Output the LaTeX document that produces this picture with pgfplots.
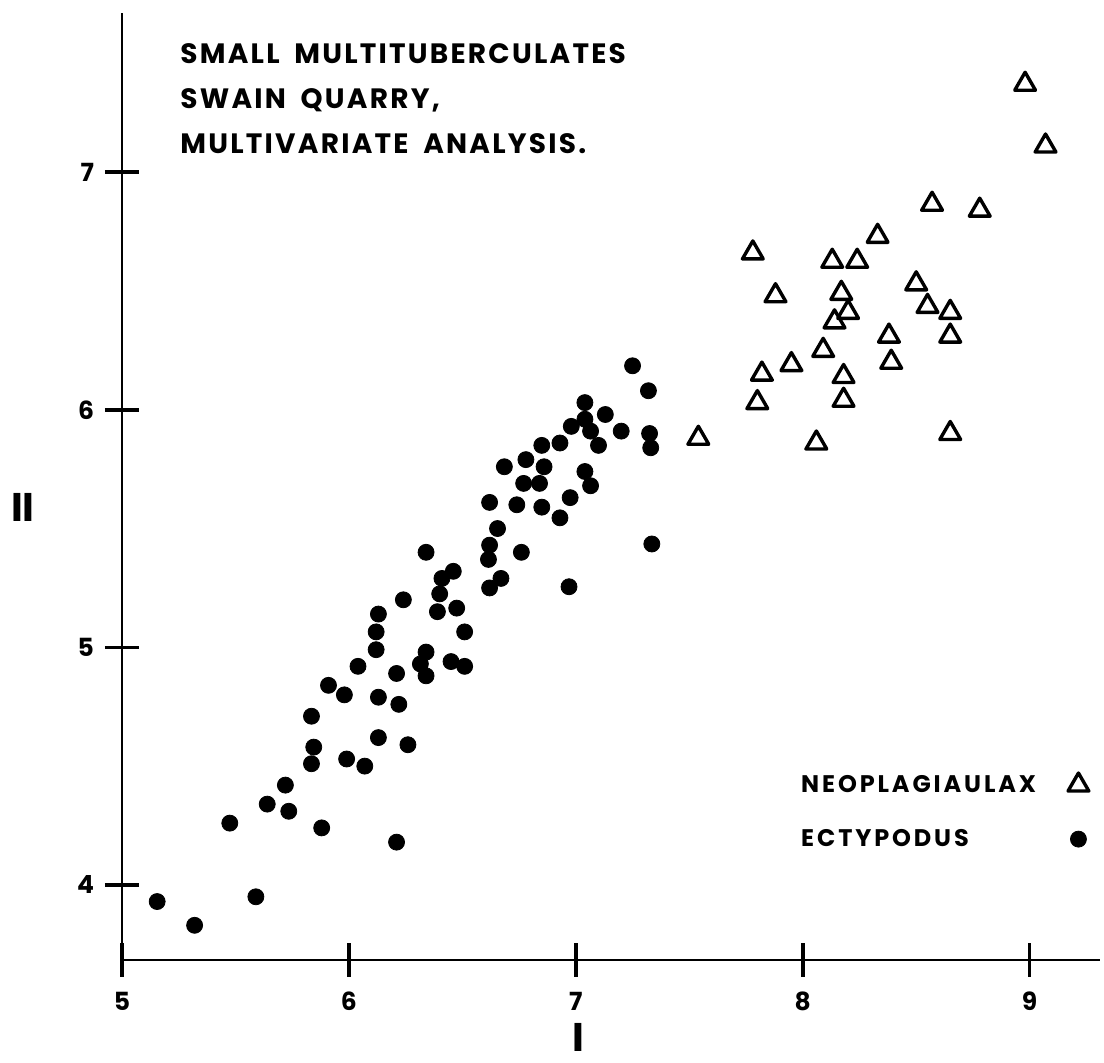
\documentclass[border=0pt]{standalone}
\usepackage{fontspec}
\setmainfont{Poppins}
\newfontfamily\titlefont{Poppins}[LetterSpace=8,WordSpace=1.8]
\usepackage{pgfplots}
\usepackage{pgfplotstable}
\pgfplotsset{compat=1.18}

\pgfplotstableread{
x y
8.98 7.37
9.07 7.11
8.57 6.865
8.78 6.84
8.33 6.73
7.78 6.66
8.13 6.625
8.24 6.625
8.50 6.53
7.88 6.48
8.17 6.49
8.20 6.41
8.14 6.37
8.55 6.435
8.65 6.41
8.38 6.31
8.65 6.31
8.09 6.25
7.95 6.19
7.82 6.15
8.39 6.20
8.18 6.14
7.80 6.03
8.18 6.04
7.54 5.88
8.06 5.86
8.65 5.90
}\neodata

\pgfplotstableread{
x y
5.155 3.93
5.32 3.83
5.475 4.26
5.59 3.95
5.64 4.34
5.72 4.42
5.735 4.31
5.835 4.71
5.845 4.58
5.835 4.51
5.88 4.24
5.91 4.84
5.98 4.80
5.99 4.53
6.04 4.92
6.07 4.50
6.12 4.99
6.13 4.62
6.13 4.79
6.21 4.18
6.21 4.89
6.22 4.76
6.26 4.59
6.315 4.93
6.34 4.98
6.34 4.88
6.62 5.61
6.74 5.60
6.85 5.59
6.77 5.69
6.84 5.69
6.655 5.50
6.62 5.43
6.615 5.37
6.76 5.40
6.67 5.29
6.62 5.25
6.34 5.40
6.46 5.32
6.41 5.29
6.40 5.225
6.24 5.20
6.39 5.15
6.475 5.165
6.13 5.14
6.12 5.065
6.51 5.065
6.45 4.94
6.51 4.92
7.25 6.185
7.32 6.08
7.04 6.03
7.13 5.98
7.04 5.96
6.98 5.93
7.065 5.91
7.20 5.91
7.325 5.90
7.33 5.84
7.10 5.85
6.93 5.86
6.85 5.85
6.78 5.79
6.685 5.76
6.86 5.76
7.04 5.74
7.065 5.68
6.975 5.63
6.93 5.545
7.335 5.435
6.97 5.255
}\ectdata

\begin{document}
\begin{tikzpicture}
\useasboundingbox (-61pt,-51.5pt) rectangle (491pt,480pt);
\begin{axis}[
  at={(0,0)}, anchor=south west,
  scale only axis, width=489pt, height=473.5pt,
  xmin=5, xmax=9.31, ymin=3.684, ymax=7.67,
  axis lines=left,
  axis line style={-, line width=1.4pt, black},
  xtick={5,6,7,8,9}, ytick={4,5,6,7},
  tick align=center, major tick length=17pt,
  tick style={black, line width=1.8pt},
  tick label style={font=\bfseries\fontsize{12.5}{12.5}\selectfont},
  /pgf/number format/assume math mode=true,
  xticklabel style={yshift=-4pt},
  yticklabel style={xshift=-2pt},
  clip=false,
  legend plot pos=right,
  legend cell align=left,
  legend style={draw=none, fill=none, at={(rel axis cs:0.69,0.2)}, anchor=north west,
    font=\bfseries\fontsize{12}{12}\selectfont\addfontfeatures{LetterSpace=12},
    row sep=13pt, column sep=14pt, inner sep=0pt},
  every axis x label/.style={at={(rel axis cs:0.467,0)}, anchor=base, yshift=-46pt,
    font=\bfseries\fontsize{20}{20}\selectfont},
  every axis y label/.style={at={(rel axis cs:0,0.478)}, anchor=center, xshift=-49.5pt,
    font=\bfseries\fontsize{20}{20}\selectfont},
  xlabel={I}, ylabel={II},
]
\addplot[only marks, mark=triangle, mark size=6pt, black,
  mark options={line width=1.7pt, line join=round, solid}] table[x=x,y=y] {\neodata};
\addlegendentry{NEOPLAGIAULAX}
\addplot[only marks, mark=*, mark size=4pt, black, mark options={fill=black}] table[x=x,y=y] {\ectdata};
\addlegendentry{ECTYPODUS}
\end{axis}
\begin{scope}[every node/.style={anchor=base west, inner sep=0pt,
   font=\titlefont\bfseries\fontsize{14}{14}\selectfont}]
\node at (29pt,448pt) {SMALL MULTITUBERCULATES};
\node at (29pt,425.5pt) {SWAIN QUARRY,};
\node at (29pt,403pt) {MULTIVARIATE ANALYSIS.};
\end{scope}
\end{tikzpicture}
\end{document}
